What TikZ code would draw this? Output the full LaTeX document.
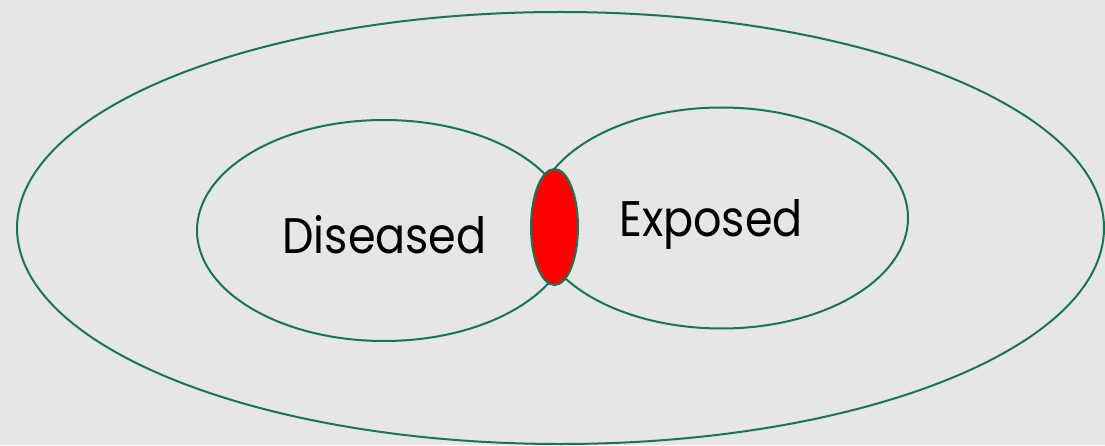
\documentclass[tikz,border=0pt]{standalone}
\usepackage{fontspec}
\setmainfont{Poppins}
\usetikzlibrary{shapes.geometric}
\definecolor{bg}{HTML}{E6E6E6}
\definecolor{edge}{RGB}{22,117,87}
\tikzset{
  ring/.style={ellipse, draw=edge, line width=2pt, inner sep=0pt},
  label/.style={inner sep=0pt, anchor=base, font=\fontsize{50}{50}\selectfont, text=black}
}
\begin{document}
\begin{tikzpicture}[x=1pt,y=1pt]
\fill[bg] (0,0) rectangle (1105,445);
\useasboundingbox (0,0) rectangle (1105,445);
\node[ring, minimum width=1087pt, minimum height=432pt] (outer) at (560.5,217) {};
\node[ring, minimum width=374pt, minimum height=221pt] (dis) at (384,214.5) {};
\node[ring, minimum width=373pt, minimum height=221pt] (exp) at (721.5,227) {};
\node[ring, fill=red, minimum width=47pt, minimum height=116pt] (both) at (554.5,218) {};
\node[label] (tdis) at (384.5,192) {\scalebox{0.89}[1]{Diseased}};
\node[label] (texp) at (711,208) {\scalebox{0.89}[1]{Exposed}};
\end{tikzpicture}
\end{document}
